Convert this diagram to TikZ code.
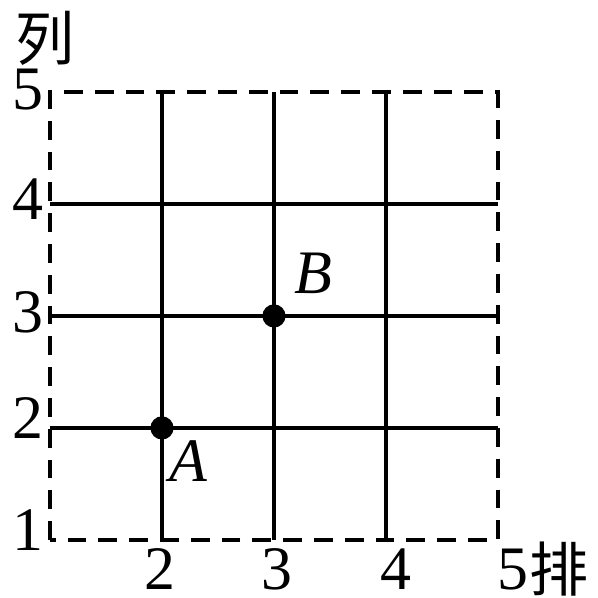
\documentclass[tikz,border=0pt]{standalone}
\usepackage{fontspec}
\setmainfont{Liberation Serif}
\newfontfamily\cjk{Noto Sans CJK SC}
\usepackage{tikz}
\usetikzlibrary{positioning}
\tikzset{
  gridline/.style = {line width=2.8pt, black},
  frame/.style    = {line width=2.8pt, black, dash pattern=on 0.47cm off 0.3cm},
  dot/.style      = {circle, fill=black, inner sep=0pt, minimum size=0.58cm},
  ticklab/.style  = {inner sep=0pt, font=\fontsize{44}{48}\selectfont},
  ptlab/.style    = {inner sep=0pt, font=\fontsize{44}{48}\selectfont\itshape},
  axlab/.style    = {inner sep=0pt, font=\fontsize{42}{48}\selectfont\cjk},
}

\begin{document}
\begin{tikzpicture}[x=2.8cm, y=2.8cm]
  \useasboundingbox (0.5536,0.482) rectangle (5.893,5.821);

  \foreach \k in {2,3,4} {
    \draw[gridline] (\k,1) -- (\k,5);
    \draw[gridline] (1,\k) -- (5,\k);
  }
  \draw[frame] (1,1) rectangle (5,5);

  \node[dot] (pA) at (2,2) {};
  \node[dot] (pB) at (3,3) {};
  \node[ptlab, anchor=base] (labA) at (2.24,1.52) {A};
  \node[ptlab, anchor=base] (labB) at (3.35,3.20) {B};

  \foreach \n/\dy in {1/0.09, 2/0.09, 3/0.15, 4/0.14, 5/0.16}
    \node[ticklab, anchor=base east] (row\n) at (0.94,\n-\dy) {\n};
  \foreach \n/\dx in {2/-0.02, 3/0.03, 4/0.09, 5/0.13}
    \node[ticklab, anchor=base] (col\n) at (\n+\dx,0.56) {\n};

  \node[axlab] (lie) at (0.955,5.48) {列};
  \node[axlab, right=0.02cm of col5] (pai) {排};
\end{tikzpicture}
\end{document}
